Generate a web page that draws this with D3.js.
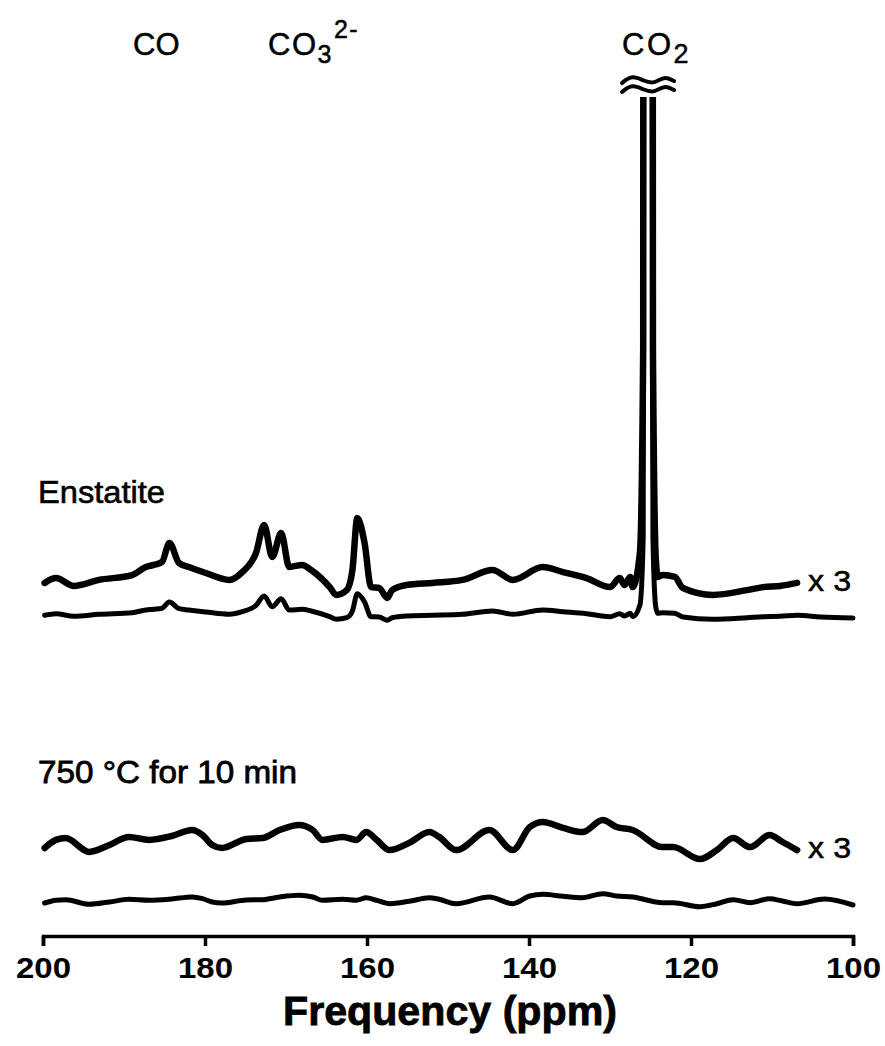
<!DOCTYPE html>
<html>
<head>
<meta charset="utf-8">
<script src="https://cdn.jsdelivr.net/npm/d3@7"></script>
<style>
  html, body { margin: 0; padding: 0; background: #fff; }
  svg { display: block; }
  text { font-family: "Liberation Sans", Arial, sans-serif; fill: #000; }
</style>
</head>
<body>
<div id="chart"></div>
<script>
// 13C NMR spectra. Intensity in arbitrary units (x1 trace).
const xTicks = [200, 180, 160, 140, 120, 100];

const enstatitePpm = [
  199.8, 198.4, 196.2, 193.1, 189.0, 187.3, 186.3, 185.3, 184.4, 183.2,
  182.0, 179.9, 177.0, 175.4, 173.7, 172.7, 171.7, 170.6, 169.6, 168.0,
  166.9, 164.6, 163.8, 162.5, 161.8, 161.2, 160.3, 159.5, 158.5, 157.5,
  156.9, 155.1, 151.9, 148.2, 144.5, 142.0, 138.3, 135.8, 132.9, 130.0,
  128.8, 128.2, 127.5, 127.2, 126.3, 125.9, 125.8, 125.3, 124.85, 124.7,
  124.35, 124.1, 123.5, 122.0, 121.0, 117.3, 113.1, 111.1, 109.0, 106.9,
  104.0, 100.0,
];
const enstatiteIntensity = [
  1.7, 3.3, 0.7, 2.7, 4.3, 7, 7.7, 8.7, 15, 8.3,
  7, 5, 2.7, 5.3, 11.7, 21, 10.3, 18.3, 7, 7.7,
  6, 0.3, -2.3, -0.7, 6, 23.3, 15, 0.3, 0, -3.3,
  -0.7, 1, 1.7, 2.7, 6, 2.7, 7, 5.3, 3.3, 0.3,
  3.3, 1, 3.7, 0.3, 12, 80, 1000, 3000, 1000, 80,
  10, 3.7, 4.3, 3.7, 0, -2.3, -0.7, 0.3, 0.7, 1.7,
  0, -1,
];

const heatedPpm = [
  199.8, 198.4, 197.2, 194.3, 191.8, 189.4, 186.9, 184.1, 181.6, 180.3,
  179.1, 177.9, 174.9, 172.9, 170.8, 168.4, 166.7, 165.5, 163.0, 161.3,
  160.1, 158.8, 157.2, 154.8, 152.3, 151.1, 149.0, 144.9, 142.0, 139.9,
  138.3, 135.8, 133.4, 130.9, 129.2, 127.2, 123.5, 122.2, 118.9, 116.8,
  114.8, 112.7, 110.3, 108.7, 106.9, 103.5, 100.0,
];
const heatedIntensity = [
  -2, 0.7, 1.3, -3.3, -1, 1.7, 0.7, 2, 4, 2.3,
  -1, -2, 1, 1.3, 4, 5.7, 4, 0.7, 1.7, 0.7,
  3.3, 0.7, -2.7, -0.3, 3.3, 1.7, -2.7, 4, -2.7, 5,
  6.7, 4.7, 3.3, 7.3, 5, 4, -1.7, -1.7, -5.7, -2.7,
  1.3, -1.7, 2.3, 0, -2.7, 2, -4,
];

const sampleLabels = ['Enstatite', '750 °C for 10 min'];
const scaleLabel = 'x 3';

const width = 885;
const height = 1046;
const axisY = 936;
const clipTop = 97;

const svg = d3.select('#chart')
  .append('svg')
  .attr('width', width)
  .attr('height', height);

const xScale = d3.scaleLinear()
  .domain([200, 100])
  .range([43, 853]);

// one intensity unit = one pixel; traces are stacked with offsets
const yScale = d3.scaleLinear()
  .domain([0, 840])
  .range([axisY, axisY - 840]);

const enstatite = enstatitePpm.map((p, i) => ({ ppm: p, v: enstatiteIntensity[i] }));
const heated = heatedPpm.map((p, i) => ({ ppm: p, v: heatedIntensity[i] }));

// factor 3 traces stop short of the right edge, where the "x 3" sits
const traces = [
  { data: enstatite, factor: 3, offset: 348, width: 6.5 },
  { data: enstatite, factor: 1, offset: 319, width: 5 },
  { data: heated, factor: 3, offset: 94, width: 6.5 },
  { data: heated, factor: 1, offset: 35, width: 5 },
];

svg.append('clipPath')
  .attr('id', 'plot-clip')
  .append('rect')
  .attr('x', 0)
  .attr('y', clipTop)
  .attr('width', width)
  .attr('height', axisY - clipTop);

const plot = svg.append('g').attr('clip-path', 'url(#plot-clip)');

traces.forEach((t) => {
  const pts = t.factor === 3 ? t.data.filter((d) => d.ppm >= 106.9) : t.data;
  plot.append('path')
    .datum(pts)
    .attr('fill', 'none')
    .attr('stroke', '#000')
    .attr('stroke-width', t.width)
    .attr('stroke-linejoin', 'round')
    .attr('stroke-linecap', 'round')
    .attr('d', d3.line()
      .curve(d3.curveMonotoneX)
      .x((d) => xScale(d.ppm))
      .y((d) => yScale(t.offset + t.factor * d.v)));
});

// "x 3" markers at the end of the magnified traces
[traces[0], traces[2]].forEach((t) => {
  const last = t.data.filter((d) => d.ppm >= 106.9).slice(-1)[0];
  svg.append('text')
    .attr('x', xScale(last.ppm) + 11)
    .attr('y', yScale(t.offset + t.factor * last.v) + 8)
    .attr('font-size', 29)
    .attr('textLength', 43)
    .attr('lengthAdjust', 'spacingAndGlyphs')
    .attr('stroke', '#000')
    .attr('stroke-width', 0.5)
    .text(scaleLabel);
});

// sample names
svg.append('text')
  .attr('x', 38)
  .attr('y', 503)
  .attr('font-size', 31)
  .attr('textLength', 127)
  .attr('lengthAdjust', 'spacingAndGlyphs')
  .attr('stroke', '#000')
  .attr('stroke-width', 0.6)
  .text(sampleLabels[0]);
svg.append('text')
  .attr('x', 38)
  .attr('y', 783)
  .attr('font-size', 31)
  .attr('textLength', 259)
  .attr('lengthAdjust', 'spacingAndGlyphs')
  .attr('stroke', '#000')
  .attr('stroke-width', 0.8)
  .text(sampleLabels[1]);

// axis break on the CO2 peak
const peakX = xScale(125.3);
const wave = d3.line().curve(d3.curveBasis);
[80, 89].forEach((yy) => {
  svg.append('path')
    .attr('fill', 'none')
    .attr('stroke', '#000')
    .attr('stroke-width', 4)
    .attr('stroke-linecap', 'round')
    .attr('d', wave([
      [peakX - 26, yy + 3], [peakX - 16, yy - 5], [peakX - 4, yy + 1],
      [peakX + 6, yy + 4], [peakX + 16, yy - 4], [peakX + 26, yy + 1],
    ]));
});

// peak assignments
const labelFont = 31;
const subFont = 25;
function peakLabel(x, main, spacing) {
  return svg.append('text')
    .attr('x', x)
    .attr('y', 55)
    .attr('font-size', labelFont)
    .attr('letter-spacing', spacing)
    .attr('stroke', '#000')
    .attr('stroke-width', 0.5)
    .call((t) => t.append('tspan').text(main));
}

peakLabel(133, 'CO', 0);

const co3 = peakLabel(268, 'CO', 1.5);
co3.append('tspan').attr('font-size', subFont).attr('dy', 8).text('3');
co3.append('tspan').attr('font-size', subFont).attr('dy', -25).attr('dx', 1).text('2-');

const co2 = peakLabel(622, 'CO', 2.5);
co2.append('tspan').attr('font-size', subFont + 2).attr('dy', 8).text('2');

// x axis
const xAxis = d3.axisBottom(xScale)
  .tickValues(xTicks)
  .tickSize(10)
  .tickFormat(d3.format('d'));

const gx = svg.append('g')
  .attr('transform', `translate(0,${axisY})`)
  .call(xAxis);

gx.select('.domain')
  .attr('stroke', '#000')
  .attr('stroke-width', 3.5);
gx.selectAll('.tick line')
  .attr('stroke', '#000')
  .attr('stroke-width', 3.5);
gx.selectAll('.tick text')
  .attr('y', 42)
  .attr('dy', 0)
  .attr('font-family', '"Liberation Sans", Arial, sans-serif')
  .attr('font-size', 30)
  .attr('font-weight', 'bold')
  .attr('textLength', 55)
  .attr('lengthAdjust', 'spacingAndGlyphs')
  .attr('fill', '#000');

svg.append('text')
  .attr('x', 450)
  .attr('y', 1025)
  .attr('text-anchor', 'middle')
  .attr('font-size', 40)
  .attr('font-weight', 'bold')
  .attr('textLength', 334)
  .attr('lengthAdjust', 'spacingAndGlyphs')
  .attr('stroke', '#000')
  .attr('stroke-width', 0.8)
  .text('Frequency (ppm)');
</script>
</body>
</html>
